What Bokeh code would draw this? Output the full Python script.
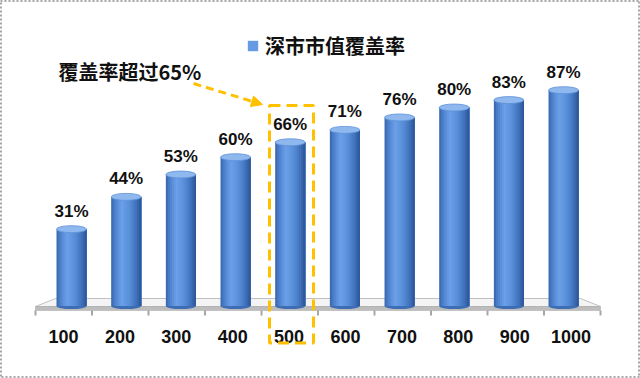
from bokeh.plotting import figure
from bokeh.models import Range1d, ColumnDataSource, Legend, LegendItem, Arrow, NormalHead
from bokeh.core.properties import value
from bokeh.embed import file_html
from bokeh.resources import INLINE

# ---- data ----
categories = ["100", "200", "300", "400", "500", "600", "700", "800", "900", "1000"]
coverage = [31, 44, 53, 60, 66, 71, 76, 80, 83, 87]
series_name = "深市市值覆盖率"
note_text = "覆盖率超过65%"
highlight_category = "500"

# ---- layout helpers (pixel -> data) ----
W, H = 640, 378
X0_PX, STEP_PX = 71.0, 54.67      # first bar centre, bar spacing
Y0_PX, PX_PER_UNIT = 305.6, 2.482  # zero line, pixels per percent


def dx(px):
    return (px - X0_PX) / STEP_PX


def dy(py):
    return (Y0_PX - py) / PX_PER_UNIT


p = figure(width=W, height=H, x_range=Range1d(dx(0), dx(W)), y_range=Range1d(dy(H), dy(0)),
           toolbar_location=None, output_backend="svg", min_border=0,
           x_axis_type=None, y_axis_type=None)
p.grid.visible = False
p.background_fill_color = "white"
p.border_fill_color = "white"
p.outline_line_color = "#a6a6a6"
p.outline_line_width = 3
p.outline_line_dash = "2 2"

n = len(categories)
idx = list(range(n))

# ---- floor (3D base) ----
p.patch(x=[dx(55), dx(580), dx(600), dx(35)], y=[dy(298), dy(298), dy(306), dy(306)],
        fill_color="#f4f4f4", line_color="#c0c0c0", line_width=1)
p.quad(left=[dx(35)], right=[dx(600)], bottom=[dy(310)], top=[dy(306)],
       fill_color="#bdbdbd", line_color="#a8a8a8", line_width=0.5)
tick_x = [dx(35 + k * 56.5) for k in range(n + 1)]
p.segment(x0=tick_x, y0=[dy(310)] * (n + 1), x1=tick_x, y1=[dy(315)] * (n + 1),
          line_color="#a6a6a6", line_width=2)

# ---- cylinders ----
src = ColumnDataSource(dict(x=idx, top=coverage, cat=categories,
                            lab=[f"{v}%" for v in coverage]))
bar_w = 30.0 / STEP_PX


def hex2rgb(h):
    return tuple(int(h[i:i + 2], 16) for i in (1, 3, 5))


stops = [(0.0, "#3764ab"), (0.12, "#4c80cb"), (0.35, "#6ca0e8"), (0.6, "#5a90da"),
         (0.85, "#3e70b9"), (1.0, "#2b5392")]


def shade(t):
    for (t0, c0), (t1, c1) in zip(stops[:-1], stops[1:]):
        if t0 <= t <= t1:
            a = (t - t0) / (t1 - t0)
            r0, r1 = hex2rgb(c0), hex2rgb(c1)
            return "#%02x%02x%02x" % tuple(round(r0[i] + (r1[i] - r0[i]) * a) for i in range(3))
    return stops[-1][1]


# bottom rounded edge
p.ellipse(x="x", y=0, width=bar_w, height=6, height_units="screen", source=src,
          fill_color="#3d6db5", line_color=None)

# layered strips: each layer starts further right and runs to the right edge
S = 15
mid_renderer = None
for s in range(S):
    t = (s + 0.5) / S
    left_off = -0.5 * bar_w + s * bar_w / S
    right_off = 0.5 * bar_w
    width = right_off - left_off
    xs = [i + (left_off + right_off) / 2 for i in idx]
    r = p.vbar(x=xs, top=coverage, bottom=0, width=width,
               fill_color=shade(t), line_color=None)
    if s == 6:
        mid_renderer = r

# top cap
p.ellipse(x="x", y="top", width=bar_w, height=7, height_units="screen", source=src,
          fill_color="#8fb8ef", line_color="#5d90d6", line_width=0.8)

# value labels
p.text(x="x", y="top", text="lab", source=src, y_offset=-18,
       text_align="center", text_baseline="middle",
       text_font=value("Liberation Sans"), text_font_style="bold",
       text_font_size="17px", text_color="#111111")

# category labels
lab_x = [dx(63 + i * 56.4) for i in idx]
p.text(x=lab_x, y=[dy(336)] * n, text=categories,
       text_align="center", text_baseline="middle",
       text_font=value("Liberation Sans"), text_font_style="bold",
       text_font_size="18px", text_color="#111111")

# ---- legend ----
legend = Legend(items=[LegendItem(label=series_name, renderers=[mid_renderer])],
                location=(246, 318), orientation="horizontal",
                glyph_width=13, glyph_height=13, label_standoff=6,
                padding=0, margin=0, spacing=0,
                border_line_color=None, background_fill_alpha=0,
                label_text_font="Noto Sans CJK SC", label_text_font_style="bold",
                label_text_font_size="20px", label_text_color="#111111",
                label_height=24)
p.add_layout(legend)

# ---- highlight annotation ----
gold = "#FFC000"
hi = categories.index(highlight_category)
p.quad(left=[hi + (269 - (X0_PX + hi * STEP_PX)) / STEP_PX],
       right=[hi + (313 - (X0_PX + hi * STEP_PX)) / STEP_PX],
       bottom=[dy(342.5)], top=[dy(105)],
       fill_color=None, line_color=gold, line_width=3, line_dash="11 6")

p.add_layout(Arrow(x_start=dx(193), y_start=dy(83), x_end=dx(262), y_end=dy(104),
                   line_color=gold, line_width=3, line_dash="8 5",
                   end=NormalHead(size=11, fill_color=gold, line_color=gold, line_width=1)))

p.text(x=[dx(58)], y=[dy(71)], text=[note_text], text_align="left", text_baseline="middle",
       text_font=value("Noto Sans CJK SC"), text_font_style="bold",
       text_font_size="20px", text_color="#111111")

open("out.html", "w").write(file_html(p, INLINE))
